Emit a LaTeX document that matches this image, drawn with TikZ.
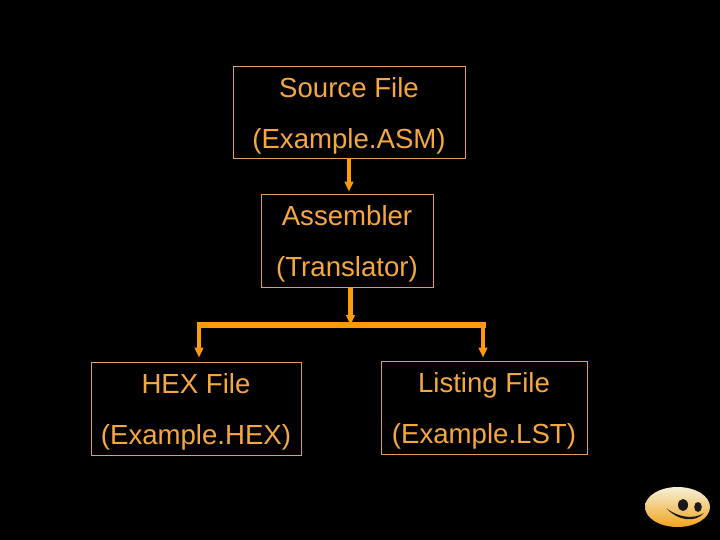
\documentclass[tikz,border=0pt]{standalone}
\usepackage{fontspec}
\setmainfont{Liberation Sans}
\usetikzlibrary{calc}
\usetikzlibrary{arrows.meta}
\usetikzlibrary{positioning}
\definecolor{wire}{HTML}{FF9A0F}
\definecolor{frame}{HTML}{DDA060}
\definecolor{label}{HTML}{F5A742}
\definecolor{faceup}{HTML}{F6F0D8}
\definecolor{facemid}{HTML}{FFDA68}
\definecolor{facelow}{HTML}{F2A41E}
\begin{document}
\begin{tikzpicture}[x=1pt, y=-1pt, >={Triangle[length=10pt, width=8.5pt]}, font=\fontsize{27.6}{51}\selectfont]
    \tikzstyle{block}=[draw=frame,line width=0.8pt,rectangle,fill=none,text=label,align=center,inner sep=0pt,execute at begin node={\rule{0pt}{78pt}}]
    \tikzstyle{flow}=[->,draw=wire,line width=4.5pt,shorten >=2pt]

	\fill[black] (0,0) rectangle (720,540);
	\useasboundingbox (0,0) rectangle (720,540);

	\node[block, minimum width=232pt, minimum height=92pt] (src) at (349,112) {Source File\\(Example.ASM)};
	\node[block, minimum width=172pt, minimum height=93pt] (asm) at (347,240.5) {Assembler\\(Translator)};
	\node[block, minimum width=210pt, minimum height=93pt] (hex) at (196,408.5) {HEX File\\(Example.HEX)};
	\node[block, minimum width=206pt, minimum height=93pt] (lst) at (484,407.5) {Listing File\\(Example.LST)};

	\coordinate (bus) at (350.5,325);
	\coordinate (busl) at (199,325);
	\coordinate (busr) at (483,325);

	\draw[flow] (src.south) -- (src.south |- asm.north);
	\draw[flow, shorten >=0pt] (bus |- asm.south) -- (bus);
	\draw[draw=wire, line width=6pt] ($(busl)+(-2.2,0)$) -- ($(busr)+(3,0)$);
	\draw[flow, shorten >=4pt] (busl) -- (busl |- hex.north);
	\draw[flow, shorten >=3pt] (busr) -- (busr |- lst.north);

	% smiley
	\shade[top color=faceup, middle color=facemid, bottom color=facelow] (677.5,507) ellipse (32.5 and 20);
	\fill[black!90] (683,505) ellipse (5 and 6);
	\fill[black!90] (698,507) ellipse (3.8 and 5);
	\fill[black!90] (666,508) .. controls (678,521) and (695,523) .. (704,513) .. controls (694,519.5) and (679,518) .. (666,508);
\end{tikzpicture}
\end{document}
